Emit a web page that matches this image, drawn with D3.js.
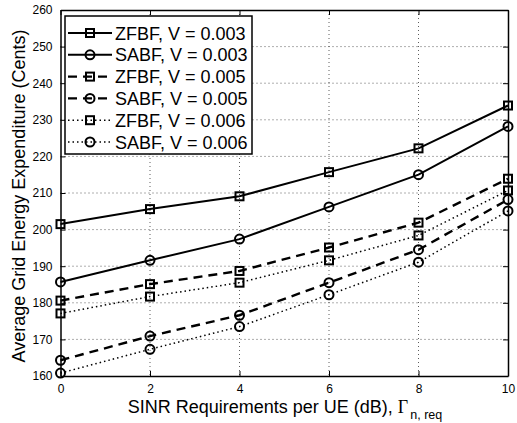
<!DOCTYPE html>
<html>
<head>
<meta charset="utf-8">
<script src="https://cdn.jsdelivr.net/npm/d3@7"></script>
<style>
  body { margin: 0; background: #fff; }
  text { font-family: "Liberation Sans", Arial, sans-serif; }
</style>
</head>
<body>
<svg id="chart" width="517" height="423"></svg>
<script>
'use strict'

// values
const sinr = [0, 2, 4, 6, 8, 10]
const zfbf003 = [201.5, 205.6, 209.1, 215.7, 222.2, 233.9]
const sabf003 = [185.7, 191.6, 197.4, 206.2, 215.0, 228.2]
const zfbf005 = [180.6, 185.1, 188.7, 195.1, 201.9, 213.9]
const sabf005 = [164.3, 170.9, 176.6, 185.5, 194.5, 208.2]
const zfbf006 = [177.1, 181.7, 185.5, 191.6, 198.4, 210.7]
const sabf006 = [160.8, 167.3, 173.5, 182.2, 191.1, 205.1]

const xTicks = [0, 2, 4, 6, 8, 10]
const yTicks = [160, 170, 180, 190, 200, 210, 220, 230, 240, 250, 260]

const seriesNames = [
  'ZFBF, V = 0.003', 'SABF, V = 0.003',
  'ZFBF, V = 0.005', 'SABF, V = 0.005',
  'ZFBF, V = 0.006', 'SABF, V = 0.006'
]
const seriesValues = [zfbf003, sabf003, zfbf005, sabf005, zfbf006, sabf006]
const markers = ['square', 'circle', 'square', 'circle', 'square', 'circle']
const dashes = [null, null, '9,6', '9,6', '1.5,3', '1.5,3']
const widths = [2, 2, 2.4, 2.4, 1.5, 1.5]

const svg = d3.select('#chart')
const m = { left: 60.5, right: 508, top: 10, bottom: 376 }

const x = d3.scaleLinear().domain([0, 10]).range([m.left, m.right])
const y = d3.scaleLinear().domain([160, 260]).range([m.bottom, m.top])

svg.append('rect').attr('width', 517).attr('height', 423).attr('fill', '#fff')

// grid
const grid = svg.append('g')
grid.selectAll('.gx').data(xTicks.slice(1, -1)).join('line')
  .attr('x1', d => x(d)).attr('x2', d => x(d))
  .attr('y1', m.top).attr('y2', m.bottom)
  .attr('stroke', '#333').attr('stroke-width', 0.8).attr('stroke-dasharray', '1,3')
grid.selectAll('.gy').data(yTicks.slice(1, -1)).join('line')
  .attr('y1', d => y(d)).attr('y2', d => y(d))
  .attr('x1', m.left).attr('x2', m.right)
  .attr('stroke', '#333').attr('stroke-width', 0.8).attr('stroke-dasharray', '1,3')

// axes with inward ticks
const xAxis = svg.append('g').attr('transform', `translate(0,${m.bottom})`)
  .call(d3.axisBottom(x).tickValues(xTicks).tickSizeInner(-5).tickSizeOuter(0).tickPadding(8))
const xAxisTop = svg.append('g').attr('transform', `translate(0,${m.top})`)
  .call(d3.axisTop(x).tickValues(xTicks).tickSizeInner(-5).tickSizeOuter(0).tickFormat(''))
const yAxis = svg.append('g').attr('transform', `translate(${m.left},0)`)
  .call(d3.axisLeft(y).tickValues(yTicks).tickSizeInner(-5).tickSizeOuter(0).tickPadding(8))
const yAxisRight = svg.append('g').attr('transform', `translate(${m.right},0)`)
  .call(d3.axisRight(y).tickValues(yTicks).tickSizeInner(-5).tickSizeOuter(0).tickFormat(''))

;[xAxis, xAxisTop, yAxis, yAxisRight].forEach(g => {
  g.select('.domain').attr('stroke', '#000').attr('stroke-width', 1.5)
  g.selectAll('.tick line').attr('stroke', '#000').attr('stroke-width', 1)
  g.selectAll('.tick text').attr('font-size', 12).attr('fill', '#000')
    .attr('font-family', '"Liberation Sans", Arial, sans-serif')
})

// series
const line = d3.line().x((d, i) => x(sinr[i])).y(d => y(d))

const drawMarker = (g, type, cx, cy) => {
  if (type === 'square') {
    g.append('rect').attr('x', cx - 4).attr('y', cy - 4).attr('width', 8).attr('height', 8)
      .attr('fill', 'none').attr('stroke', '#000').attr('stroke-width', 2)
  } else {
    g.append('circle').attr('cx', cx).attr('cy', cy).attr('r', 4.5)
      .attr('fill', 'none').attr('stroke', '#000').attr('stroke-width', 2)
  }
}

seriesValues.forEach((vals, k) => {
  const g = svg.append('g')
  g.append('path').datum(vals).attr('d', line)
    .attr('fill', 'none').attr('stroke', '#000').attr('stroke-width', widths[k])
    .attr('stroke-dasharray', dashes[k])
  vals.forEach((v, i) => drawMarker(g, markers[k], x(sinr[i]), y(v)))
})

// legend
const legend = svg.append('g')
legend.append('rect').attr('x', 65).attr('y', 16).attr('width', 187).attr('height', 138)
  .attr('fill', '#fff').attr('stroke', '#000').attr('stroke-width', 1.5)
seriesNames.forEach((name, k) => {
  const cy = 33 + k * 21.8
  legend.append('line').attr('x1', 68).attr('x2', 112).attr('y1', cy).attr('y2', cy)
    .attr('stroke', '#000').attr('stroke-width', widths[k]).attr('stroke-dasharray', dashes[k])
  drawMarker(legend, markers[k], 90, cy)
  legend.append('text').attr('x', 115).attr('y', cy + 6.5).attr('font-size', 18)
    .text(name)
})

// axis labels
const xl = svg.append('text').attr('x', 285).attr('y', 413).attr('font-size', 18)
  .attr('text-anchor', 'middle')
xl.append('tspan').text('SINR Requirements per UE (dB), ')
xl.append('tspan').attr('font-family', '"Liberation Serif", "Times New Roman", serif').text('Γ')
xl.append('tspan').attr('font-size', 12.5).attr('dy', 5.5).attr('dx', 2).text('n, req')

svg.append('text').attr('transform', 'translate(25,196) rotate(-90)')
  .attr('font-size', 18).attr('text-anchor', 'middle')
  .text('Average Grid Energy Expenditure (Cents)')
</script>
</body>
</html>
